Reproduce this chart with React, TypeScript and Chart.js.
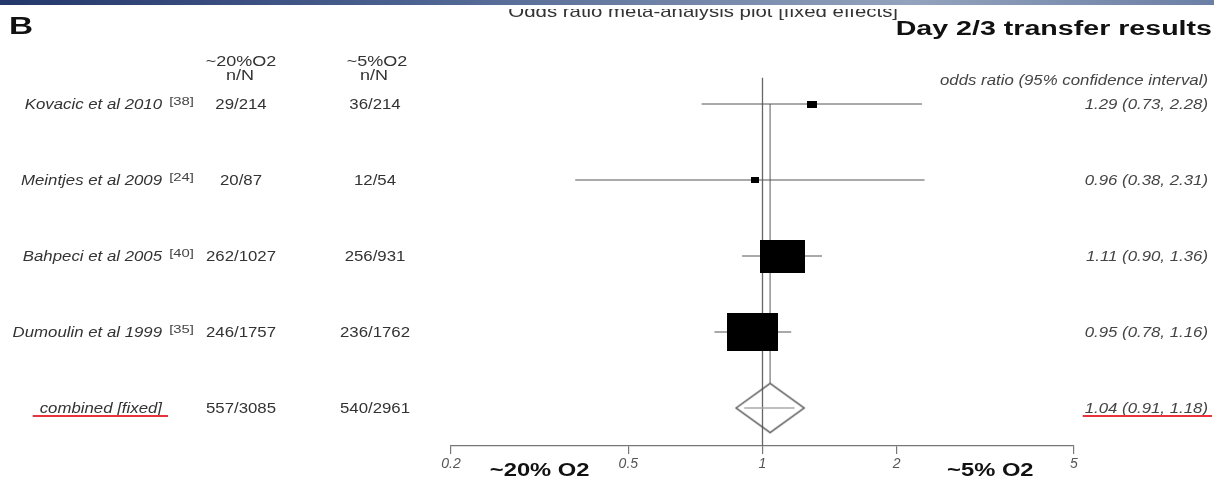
import React, { useEffect, useRef } from "react";
import { Chart, registerables } from "chart.js";

Chart.register(...registerables);

// ---------------- data ----------------
const STUDIES = ["Kovacic et al 2010", "Meintjes et al 2009", "Bahpeci et al 2005", "Dumoulin et al 1999"];
const REFS = ["[38]", "[24]", "[40]", "[35]"];
const HIGH_O2 = ["29/214", "20/87", "262/1027", "246/1757"];
const LOW_O2 = ["36/214", "12/54", "256/931", "236/1762"];
const OR = [1.29, 0.96, 1.11, 0.95];
const CI_LO = [0.73, 0.38, 0.9, 0.78];
const CI_HI = [2.28, 2.31, 1.36, 1.16];
const WEIGHTS = [2.0, 1.5, 41.9, 54.6];
const ROWS = [4, 3, 2, 1];

const POOLED_LABEL = "combined [fixed]";
const POOLED_HIGH = "557/3085";
const POOLED_LOW = "540/2961";
const POOLED_OR = 1.04;
const POOLED_LO = 0.91;
const POOLED_HI = 1.18;
const POOLED_ROW = 0;

const X_TICKS = [0.2, 0.5, 1, 2, 5];
const X_MIN = 0.2;
const X_MAX = 5;

const TITLE = "Odds ratio meta-analysis plot [fixed effects]";
const SUBTITLE = "Day 2/3 transfer results";
const PANEL = "B";
const COL1_HEAD = "~20%O2";
const COL2_HEAD = "~5%O2";
const COL_SUB = "n/N";
const OR_HEAD = "odds ratio (95% confidence interval)";
const LEFT_GROUP = "~20% O2";
const RIGHT_GROUP = "~5% O2";

// ---------------- styles ----------------
const W = 1214;
const H = 477;
const FONT = '"Liberation Sans", Arial, Helvetica, sans-serif';
const BOX_SCALE = 6.9;
const BOX_ASPECT = 1.35;
const DIAMOND_W = 68;
const DIAMOND_H = 49;
const POOLED_LINE_END = 0.33;
const Y_MIN = -0.5;
const Y_MAX = 4.35;

function makeBox(w: number, h: number) {
  const c = document.createElement("canvas");
  c.width = Math.max(2, Math.round(w));
  c.height = Math.max(2, Math.round(h));
  const g = c.getContext("2d")!;
  g.fillStyle = "#000";
  g.fillRect(0, 0, c.width, c.height);
  return c;
}

function makeDiamond(w: number, h: number) {
  const c = document.createElement("canvas");
  c.width = w + 4;
  c.height = h + 4;
  const g = c.getContext("2d")!;
  g.strokeStyle = "#555";
  g.lineWidth = 1.5;
  g.beginPath();
  g.moveTo(2, 2 + h / 2);
  g.lineTo(2 + w / 2, 2);
  g.lineTo(2 + w, 2 + h / 2);
  g.lineTo(2 + w / 2, 2 + h);
  g.closePath();
  g.stroke();
  return c;
}

const fmt = (v: number) => v.toFixed(2);

function txt(
  ctx: CanvasRenderingContext2D,
  s: string,
  x: number,
  y: number,
  font: string,
  color: string,
  align: CanvasTextAlign,
  sx = 1.2,
  baseline: CanvasTextBaseline = "middle"
) {
  ctx.save();
  ctx.font = font;
  ctx.fillStyle = color;
  ctx.textAlign = align;
  ctx.textBaseline = baseline;
  ctx.translate(x, y);
  ctx.scale(sx, 1);
  ctx.fillText(s, 0, 0);
  const w = ctx.measureText(s).width * sx;
  ctx.restore();
  return w;
}

const textPlugin = {
  id: "forestText",
  afterDraw(chart: any) {
    const ctx: CanvasRenderingContext2D = chart.ctx;
    const ys = chart.scales.y;
    const xs = chart.scales.x;

    // title (top partly cut off)
    ctx.save();
    ctx.beginPath();
    ctx.rect(0, 9, W, 30);
    ctx.clip();
    txt(ctx, TITLE, 898, 16.5, `17px ${FONT}`, "#333", "right", 1.2, "alphabetic");
    ctx.restore();

    // top gradient bar
    const g = ctx.createLinearGradient(0, 0, W, 0);
    g.addColorStop(0, "#23376a");
    g.addColorStop(0.35, "#4d6391");
    g.addColorStop(0.75, "#93a3bd");
    g.addColorStop(1, "#6b7fa5");
    ctx.fillStyle = g;
    ctx.fillRect(0, 0, W, 5);

    txt(ctx, PANEL, 9, 34, `bold 23px ${FONT}`, "#111", "left", 1.45, "alphabetic");
    txt(ctx, SUBTITLE, 1212, 35, `bold 20px ${FONT}`, "#111", "right", 1.43, "alphabetic");

    // column headers
    txt(ctx, COL1_HEAD, 241, 62, `15px ${FONT}`, "#333", "center");
    txt(ctx, COL_SUB, 240, 76, `15px ${FONT}`, "#333", "center");
    txt(ctx, COL2_HEAD, 377, 62, `15px ${FONT}`, "#333", "center");
    txt(ctx, COL_SUB, 374, 76, `15px ${FONT}`, "#333", "center");
    txt(ctx, OR_HEAD, 1208, 81, `italic 14px ${FONT}`, "#444", "right");

    // study rows
    STUDIES.forEach((name, i) => {
      const yy = ys.getPixelForValue(ROWS[i]) + 1;
      txt(ctx, name, 162, yy, `italic 14px ${FONT}`, "#333", "right");
      txt(ctx, REFS[i], 194, yy - 3, `11px ${FONT}`, "#444", "right", 1.35);
      txt(ctx, HIGH_O2[i], 241, yy, `14px ${FONT}`, "#333", "center");
      txt(ctx, LOW_O2[i], 375, yy, `14px ${FONT}`, "#333", "center");
      txt(ctx, `${fmt(OR[i])} (${fmt(CI_LO[i])}, ${fmt(CI_HI[i])})`, 1208, yy, `italic 14px ${FONT}`, "#444", "right");
    });

    // pooled row
    const py = ys.getPixelForValue(POOLED_ROW) + 1;
    const lw = txt(ctx, POOLED_LABEL, 162, py, `italic 14px ${FONT}`, "#333", "right");
    txt(ctx, POOLED_HIGH, 241, py, `14px ${FONT}`, "#333", "center");
    txt(ctx, POOLED_LOW, 375, py, `14px ${FONT}`, "#333", "center");
    const rs = `${fmt(POOLED_OR)} (${fmt(POOLED_LO)}, ${fmt(POOLED_HI)})`;
    const rw = txt(ctx, rs, 1208, py, `italic 14px ${FONT}`, "#444", "right");

    // red underlines
    ctx.save();
    ctx.strokeStyle = "#e8323c";
    ctx.lineWidth = 2;
    ctx.beginPath();
    ctx.moveTo(162 - lw - 7, py + 7);
    ctx.lineTo(168, py + 7);
    ctx.moveTo(1208 - rw - 2, py + 7);
    ctx.lineTo(1212, py + 7);
    ctx.stroke();
    ctx.restore();

    // group labels under axis
    const lx = xs.getPixelForValue(Math.sqrt(X_TICKS[0] * X_TICKS[1]));
    const rx = xs.getPixelForValue(Math.sqrt(X_TICKS[3] * X_TICKS[4]));
    txt(ctx, LEFT_GROUP, lx, 476, `bold 19px ${FONT}`, "#111", "center", 1.25, "alphabetic");
    txt(ctx, RIGHT_GROUP, rx + 5, 476, `bold 19px ${FONT}`, "#111", "center", 1.25, "alphabetic");
  },
};

export default function App() {
  const ref = useRef<HTMLCanvasElement>(null);

  useEffect(() => {
    const boxes = WEIGHTS.map((w) => {
      const bw = BOX_SCALE * Math.sqrt(w);
      return makeBox(bw, bw / BOX_ASPECT);
    });
    const diamond = makeDiamond(DIAMOND_W, DIAMOND_H);

    const lineDs = (data: { x: number; y: number }[], color: string, width: number, order: number) => ({
      data,
      showLine: true,
      borderColor: color,
      borderWidth: width,
      pointRadius: 0,
      pointHoverRadius: 0,
      order,
    });

    const datasets: any[] = [
      {
        data: OR.map((v, i) => ({ x: v, y: ROWS[i] })),
        pointStyle: boxes,
        pointRadius: 3,
        pointHoverRadius: 3,
        order: 0,
      },
      {
        data: [{ x: POOLED_OR, y: POOLED_ROW }],
        pointStyle: diamond,
        pointRadius: 3,
        pointHoverRadius: 3,
        order: 1,
      },
      lineDs([{ x: POOLED_LO, y: POOLED_ROW }, { x: POOLED_HI, y: POOLED_ROW }], "#aaa", 1.5, 2),
      ...OR.map((_, i) =>
        lineDs([{ x: CI_LO[i], y: ROWS[i] }, { x: CI_HI[i], y: ROWS[i] }], "#555", 1, 3)
      ),
      lineDs([{ x: 1, y: Y_MIN }, { x: 1, y: Y_MAX }], "#666", 1.3, 4),
      lineDs([{ x: POOLED_OR, y: ROWS[0] }, { x: POOLED_OR, y: POOLED_LINE_END }], "#777", 1.2, 5),
    ];

    const chart = new Chart(ref.current!, {
      type: "scatter",
      data: { datasets },
      options: {
        responsive: false,
        animation: false,
        devicePixelRatio: 1,
        events: [],
        layout: { padding: { left: 451, right: 140, top: 77.4, bottom: 2.2 } },
        plugins: {
          legend: { display: false },
          tooltip: { enabled: false },
          title: { display: false },
        },
        scales: {
          x: {
            type: "logarithmic",
            min: X_MIN,
            max: X_MAX,
            position: "bottom",
            afterBuildTicks: (axis: any) => {
              axis.ticks = X_TICKS.map((v) => ({ value: v }));
            },
            ticks: {
              callback: (v: any) => String(v),
              font: { family: FONT, size: 14, style: "italic" },
              color: "#555",
              padding: 2,
              maxRotation: 0,
              autoSkip: false,
            },
            grid: { drawOnChartArea: false, drawTicks: true, tickLength: 8, color: "#777", lineWidth: 1.2 },
            border: { display: true, color: "#777", width: 1.2 },
          },
          y: { type: "linear", min: Y_MIN, max: Y_MAX, display: false },
        },
      },
      plugins: [textPlugin],
    } as any);

    return () => chart.destroy();
  }, []);

  return (
    <div style={{ position: "fixed", left: 0, top: 0, width: W, height: H, background: "#fff" }}>
      <canvas ref={ref} width={W} height={H} style={{ display: "block", width: W, height: H }} />
    </div>
  );
}
